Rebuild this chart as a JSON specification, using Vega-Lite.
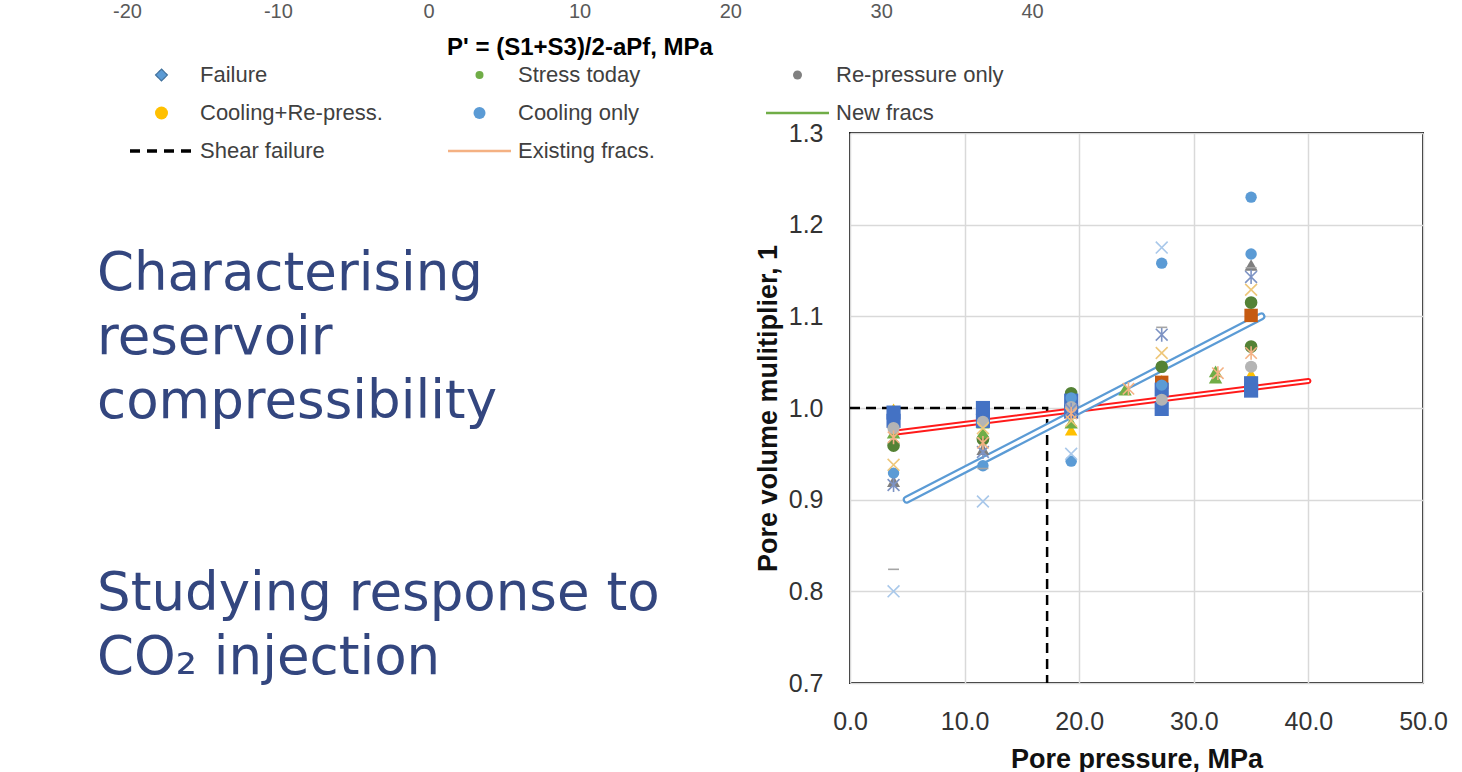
{
  "$schema": "https://vega.github.io/schema/vega-lite/v6.json",
  "width": 573,
  "height": 550,
  "autosize": {"type": "none"},
  "padding": {"left": 850, "top": 133, "right": 39, "bottom": 89},
  "background": "white",
  "config": {
    "view": {"stroke": "#1a1a1a", "strokeWidth": 2},
    "font": "Liberation Sans",
    "legend": {
      "orient": "none",
      "direction": "horizontal",
      "columns": 3,
      "gridAlign": "all",
      "columnPadding": 63,
      "rowPadding": 16,
      "padding": 0,
      "clipHeight": 22,
      "labelFont": "Liberation Sans",
      "labelFontSize": 22,
      "labelColor": "#404040",
      "labelOffset": 5,
      "labelLimit": 400,
      "symbolOpacity": 1
    }
  },
  "datasets": {
    "points": [
      {"series": "S4", "pressure": 3.8, "pv": 0.920},
      {"series": "S4", "pressure": 11.6, "pv": 0.955},
      {"series": "S4", "pressure": 35.0, "pv": 1.156},
      {"series": "S3", "pressure": 3.8, "pv": 0.999},
      {"series": "S3", "pressure": 11.6, "pv": 0.992},
      {"series": "S3", "pressure": 19.3, "pv": 0.976},
      {"series": "S3", "pressure": 27.2, "pv": 1.030},
      {"series": "S3", "pressure": 35.0, "pv": 1.037},
      {"series": "S2", "pressure": 27.2, "pv": 1.028},
      {"series": "S2", "pressure": 35.0, "pv": 1.101},
      {"series": "S6", "pressure": 3.8, "pv": 0.959},
      {"series": "S6", "pressure": 11.6, "pv": 0.966},
      {"series": "S6", "pressure": 19.3, "pv": 1.016},
      {"series": "S6", "pressure": 27.2, "pv": 1.045},
      {"series": "S6", "pressure": 35.0, "pv": 1.115},
      {"series": "S6", "pressure": 35.0, "pv": 1.067},
      {"series": "S5", "pressure": 3.8, "pv": 0.973},
      {"series": "S5", "pressure": 11.6, "pv": 0.984},
      {"series": "S5", "pressure": 11.6, "pv": 0.973},
      {"series": "S5", "pressure": 19.3, "pv": 0.984},
      {"series": "S5", "pressure": 24.0, "pv": 1.020},
      {"series": "S5", "pressure": 31.9, "pv": 1.040},
      {"series": "S5", "pressure": 31.9, "pv": 1.033},
      {"series": "S1", "pressure": 3.8, "pv": 0.995},
      {"series": "S1", "pressure": 3.8, "pv": 0.986},
      {"series": "S1", "pressure": 11.6, "pv": 1.000},
      {"series": "S1", "pressure": 11.6, "pv": 0.986},
      {"series": "S1", "pressure": 19.3, "pv": 1.008},
      {"series": "S1", "pressure": 19.3, "pv": 0.996},
      {"series": "S1", "pressure": 27.2, "pv": 1.020},
      {"series": "S1", "pressure": 27.2, "pv": 0.999},
      {"series": "S1", "pressure": 35.0, "pv": 1.027},
      {"series": "S1", "pressure": 35.0, "pv": 1.019},
      {"series": "S7", "pressure": 3.8, "pv": 0.929},
      {"series": "S7", "pressure": 11.6, "pv": 0.937},
      {"series": "S7", "pressure": 19.3, "pv": 1.011},
      {"series": "S7", "pressure": 19.3, "pv": 0.942},
      {"series": "S7", "pressure": 27.2, "pv": 1.158},
      {"series": "S7", "pressure": 27.2, "pv": 1.025},
      {"series": "S7", "pressure": 35.0, "pv": 1.230},
      {"series": "S7", "pressure": 35.0, "pv": 1.168},
      {"series": "S8", "pressure": 3.8, "pv": 0.978},
      {"series": "S8", "pressure": 11.6, "pv": 0.985},
      {"series": "S8", "pressure": 19.3, "pv": 1.001},
      {"series": "S8", "pressure": 27.2, "pv": 1.009},
      {"series": "S8", "pressure": 35.0, "pv": 1.045},
      {"series": "S10", "pressure": 3.8, "pv": 0.800},
      {"series": "S10", "pressure": 11.6, "pv": 0.898},
      {"series": "S10", "pressure": 19.3, "pv": 0.950},
      {"series": "S10", "pressure": 27.2, "pv": 1.175},
      {"series": "S11", "pressure": 3.8, "pv": 0.938},
      {"series": "S11", "pressure": 11.6, "pv": 0.978},
      {"series": "S11", "pressure": 19.3, "pv": 0.986},
      {"series": "S11", "pressure": 27.2, "pv": 1.060},
      {"series": "S11", "pressure": 35.0, "pv": 1.129},
      {"series": "S12", "pressure": 3.8, "pv": 0.916},
      {"series": "S12", "pressure": 11.6, "pv": 0.952},
      {"series": "S12", "pressure": 19.3, "pv": 0.998},
      {"series": "S12", "pressure": 27.2, "pv": 1.080},
      {"series": "S12", "pressure": 35.0, "pv": 1.143},
      {"series": "S13", "pressure": 3.8, "pv": 0.968},
      {"series": "S13", "pressure": 11.6, "pv": 0.962},
      {"series": "S13", "pressure": 19.3, "pv": 0.994},
      {"series": "S13", "pressure": 24.3, "pv": 1.021},
      {"series": "S13", "pressure": 32.1, "pv": 1.038},
      {"series": "S13", "pressure": 35.0, "pv": 1.060},
      {"series": "S14", "pressure": 3.8, "pv": 0.824},
      {"series": "S14", "pressure": 11.6, "pv": 0.934},
      {"series": "S14", "pressure": 27.2, "pv": 1.088},
      {"series": "S14", "pressure": 35.0, "pv": 1.153}
    ],
    "fits": [
      {"fit": "Cooling trend", "pressure": 4.95, "pv": 0.900},
      {"fit": "Cooling trend", "pressure": 35.9, "pv": 1.100},
      {"fit": "Existing trend", "pressure": 4.2, "pv": 0.9735},
      {"fit": "Existing trend", "pressure": 40.0, "pv": 1.0295}
    ],
    "shear": [
      {"pressure": 0, "pv": 1.0, "seq": 1},
      {"pressure": 17.2, "pv": 1.0, "seq": 2},
      {"pressure": 17.2, "pv": 0.7, "seq": 3}
    ],
    "legendSeries": [
      {"series": "Failure"},
      {"series": "Stress today"},
      {"series": "Re-pressure only"},
      {"series": "Cooling+Re-press."},
      {"series": "Cooling only"},
      {"series": "New fracs"},
      {"series": "Shear failure"},
      {"series": "Existing fracs."}
    ],
    "slideText": [
      {"text": "Characterising", "line": 0, "col": 0},
      {"text": "reservoir", "line": 1, "col": 0},
      {"text": "compressibility", "line": 2, "col": 0},
      {"text": "Studying response to", "line": 5, "col": 0},
      {"text": "CO₂ injection", "line": 6, "col": 0}
    ]
  },
  "layer": [
    {
      "encoding": {
        "x": {
          "field": "pressure", "type": "quantitative",
          "scale": {"domain": [0, 50], "nice": false, "zero": false},
          "axis": {
            "orient": "bottom",
            "values": [0, 10, 20, 30, 40, 50],
            "format": ".1f",
            "title": "Pore pressure, MPa",
            "grid": true, "gridColor": "#d9d9d9", "gridWidth": 1.5,
            "domain": false, "ticks": false,
            "labelFont": "Liberation Sans", "labelFontSize": 25, "labelColor": "#333333",
            "labelPadding": 26, "labelFlush": false, "labelOverlap": false,
            "titleFont": "Liberation Sans", "titleFontSize": 27, "titleFontWeight": "bold",
            "titleColor": "#111111", "titlePadding": 12
          }
        },
        "y": {
          "field": "pv", "type": "quantitative",
          "scale": {"domain": [0.7, 1.3], "nice": false, "zero": false},
          "axis": {
            "orient": "left",
            "values": [0.7, 0.8, 0.9, 1.0, 1.1, 1.2, 1.3],
            "format": ".1f",
            "title": "Pore volume mulitiplier, 1",
            "grid": true, "gridColor": "#d9d9d9", "gridWidth": 1.5,
            "domain": false, "ticks": false,
            "labelFont": "Liberation Sans", "labelFontSize": 25, "labelColor": "#333333",
            "labelPadding": 27, "labelFlush": false, "labelOverlap": false,
            "titleFont": "Liberation Sans", "titleFontSize": 27, "titleFontWeight": "bold",
            "titleColor": "#111111", "titlePadding": 6
          }
        }
      },
      "layer": [
        {
          "data": {"name": "shear"},
          "mark": {"type": "line", "color": "#000000", "strokeWidth": 2.5, "strokeDash": [10, 6]},
          "encoding": {"order": {"field": "seq", "type": "quantitative"}}
        },
        {
          "data": {"name": "fits"},
          "transform": [{"filter": {"field": "fit", "equal": "Existing trend"}}],
          "mark": {"type": "line", "color": "#ff1a1a", "strokeWidth": 6, "strokeCap": "round"},
          "encoding": {}
        },
        {
          "data": {"name": "fits"},
          "transform": [{"filter": {"field": "fit", "equal": "Existing trend"}}],
          "mark": {"type": "line", "color": "#ffffff", "strokeWidth": 2, "strokeCap": "round"},
          "encoding": {}
        },
        {
          "data": {"name": "fits"},
          "transform": [{"filter": {"field": "fit", "equal": "Cooling trend"}}],
          "mark": {"type": "line", "color": "#5b9bd5", "strokeWidth": 8, "strokeCap": "round"},
          "encoding": {}
        },
        {
          "data": {"name": "fits"},
          "transform": [{"filter": {"field": "fit", "equal": "Cooling trend"}}],
          "mark": {"type": "line", "color": "#ffffff", "strokeWidth": 3.5, "strokeCap": "round"},
          "encoding": {}
        },
        {
          "data": {"name": "points"},
          "transform": [{"filter": {"field": "series", "oneOf": ["S1", "S2", "S3", "S4", "S5", "S6", "S7", "S8"]}}],
          "mark": {"type": "point", "filled": true, "opacity": 1, "strokeWidth": 0},
          "encoding": {
            "color": {"field": "series", "type": "nominal", "legend": null,
              "scale": {"domain": ["S1", "S2", "S3", "S4", "S5", "S6", "S7", "S8", "S10", "S11", "S12", "S13", "S14"],
                        "range": ["#4472c4", "#c55a11", "#ffc000", "#7f7f7f", "#70ad47", "#548235", "#5b9bd5", "#b4b4b4", "#a9c8ea", "#eec77a", "#7d93c4", "#f4b183", "#a5a5a5"]}},
            "shape": {"field": "series", "type": "nominal", "legend": null,
              "scale": {"domain": ["S1", "S2", "S3", "S4", "S5", "S6", "S7", "S8", "S10", "S11", "S12", "S13", "S14"],
                        "range": ["square", "square", "triangle-up", "triangle-up", "triangle-up", "circle", "circle", "circle", "M-1,-1L1,1M-1,1L1,-1", "M-1,-1L1,1M-1,1L1,-1", "M-1,-1L1,1M-1,1L1,-1M0,-1.2L0,1.2", "M-1,-1L1,1M-1,1L1,-1M0,-1.2L0,1.2", "M-1,0L1,0"]}},
            "size": {"field": "series", "type": "nominal", "legend": null,
              "scale": {"type": "ordinal", "domain": ["S1", "S2", "S3", "S4", "S5", "S6", "S7", "S8", "S10", "S11", "S12", "S13", "S14"],
                        "range": [200, 180, 160, 170, 180, 160, 130, 150, 140, 140, 140, 130, 120]}}
          }
        },
        {
          "data": {"name": "points"},
          "transform": [{"filter": {"field": "series", "oneOf": ["S10", "S11", "S12", "S13", "S14"]}}],
          "mark": {"type": "point", "filled": false, "opacity": 1, "strokeWidth": 1.6},
          "encoding": {
            "color": {"field": "series", "type": "nominal", "legend": null,
              "scale": {"domain": ["S1", "S2", "S3", "S4", "S5", "S6", "S7", "S8", "S10", "S11", "S12", "S13", "S14"],
                        "range": ["#4472c4", "#c55a11", "#ffc000", "#7f7f7f", "#70ad47", "#548235", "#5b9bd5", "#b4b4b4", "#a9c8ea", "#eec77a", "#7d93c4", "#f4b183", "#a5a5a5"]}},
            "shape": {"field": "series", "type": "nominal", "legend": null,
              "scale": {"domain": ["S1", "S2", "S3", "S4", "S5", "S6", "S7", "S8", "S10", "S11", "S12", "S13", "S14"],
                        "range": ["square", "square", "triangle-up", "triangle-up", "triangle-up", "circle", "circle", "circle", "M-1,-1L1,1M-1,1L1,-1", "M-1,-1L1,1M-1,1L1,-1", "M-1,-1L1,1M-1,1L1,-1M0,-1.2L0,1.2", "M-1,-1L1,1M-1,1L1,-1M0,-1.2L0,1.2", "M-1,0L1,0"]}},
            "size": {"field": "series", "type": "nominal", "legend": null,
              "scale": {"type": "ordinal", "domain": ["S1", "S2", "S3", "S4", "S5", "S6", "S7", "S8", "S10", "S11", "S12", "S13", "S14"],
                        "range": [200, 180, 160, 170, 180, 160, 130, 150, 140, 140, 140, 130, 120]}}
          }
        }
      ]
    },
    {
      "data": {"name": "legendSeries"},
      "mark": {"type": "point", "filled": true, "opacity": 0},
      "encoding": {
        "x": {
          "field": "p", "type": "quantitative",
          "scale": {"domain": [-20, 40], "range": [-723, 182], "nice": false, "zero": false},
          "axis": {
            "orient": "bottom", "offset": -685,
            "values": [-20, -10, 0, 10, 20, 30, 40],
            "labelExpr": "replace(datum.label, '\u2212', '-')",
            "title": "P' = (S1+S3)/2-aPf, MPa",
            "domain": false, "ticks": false, "grid": false,
            "labelFont": "Liberation Sans", "labelFontSize": 20, "labelColor": "#595959",
            "labelPadding": 3, "labelFlush": false, "labelOverlap": false,
            "titleFont": "Liberation Sans", "titleFontSize": 24, "titleFontWeight": "bold",
            "titleColor": "#000000", "titlePadding": 14
          }
        },
        "fill": {"field": "series", "type": "nominal",
          "legend": {"title": null, "legendX": -722, "legendY": -69},
          "scale": {"domain": ["Failure", "Stress today", "Re-pressure only", "Cooling+Re-press.", "Cooling only", "New fracs", "Shear failure", "Existing fracs."],
                    "range": ["#5b9bd5", "#70ad47", "#808080", "#ffc000", "#5b9bd5", "transparent", "transparent", "transparent"]}},
        "stroke": {"field": "series", "type": "nominal",
          "legend": {"title": null, "legendX": -722, "legendY": -69},
          "scale": {"domain": ["Failure", "Stress today", "Re-pressure only", "Cooling+Re-press.", "Cooling only", "New fracs", "Shear failure", "Existing fracs."],
                    "range": ["#41719c", "transparent", "transparent", "transparent", "transparent", "#70ad47", "#000000", "#f4b183"]}},
        "shape": {"field": "series", "type": "nominal",
          "legend": {"title": null, "legendX": -722, "legendY": -69},
          "scale": {"domain": ["Failure", "Stress today", "Re-pressure only", "Cooling+Re-press.", "Cooling only", "New fracs", "Shear failure", "Existing fracs."],
                    "range": ["diamond", "circle", "circle", "circle", "circle", "stroke", "stroke", "stroke"]}},
        "size": {"field": "series", "type": "nominal",
          "legend": {"title": null, "legendX": -722, "legendY": -69},
          "scale": {"type": "ordinal", "domain": ["Failure", "Stress today", "Re-pressure only", "Cooling+Re-press.", "Cooling only", "New fracs", "Shear failure", "Existing fracs."],
                    "range": [140, 64, 81, 169, 144, 3969, 3969, 3969]}},
        "strokeDash": {"field": "series", "type": "nominal",
          "legend": {"title": null, "legendX": -722, "legendY": -69},
          "scale": {"type": "ordinal", "domain": ["Failure", "Stress today", "Re-pressure only", "Cooling+Re-press.", "Cooling only", "New fracs", "Shear failure", "Existing fracs."],
                    "range": [[1, 0], [1, 0], [1, 0], [1, 0], [1, 0], [1, 0], [10, 7], [1, 0]]}},
        "strokeWidth": {"field": "series", "type": "nominal",
          "legend": {"title": null, "legendX": -722, "legendY": -69},
          "scale": {"type": "ordinal", "domain": ["Failure", "Stress today", "Re-pressure only", "Cooling+Re-press.", "Cooling only", "New fracs", "Shear failure", "Existing fracs."],
                    "range": [1.2, 0, 0, 0, 0, 2.5, 3.5, 2.5]}}
      }
    },
    {
      "data": {"name": "slideText"},
      "mark": {"type": "text", "align": "left", "baseline": "alphabetic", "font": "DejaVu Sans", "fontSize": 53, "color": "#33467f"},
      "encoding": {
        "x": {"field": "col", "type": "quantitative", "scale": {"domain": [1.3141, 2.3141], "nice": false, "zero": false}, "axis": null},
        "y": {"field": "line", "type": "quantitative", "scale": {"domain": [-2.4531, 6.1406], "reverse": true, "nice": false, "zero": false}, "axis": null},
        "text": {"field": "text", "type": "nominal"}
      }
    }
  ],
  "resolve": {
    "scale": {"x": "independent", "y": "independent", "shape": "independent", "size": "independent", "strokeDash": "independent", "strokeWidth": "independent", "color": "independent", "fill": "independent", "stroke": "independent"},
    "axis": {"x": "independent", "y": "independent"}
  }
}
